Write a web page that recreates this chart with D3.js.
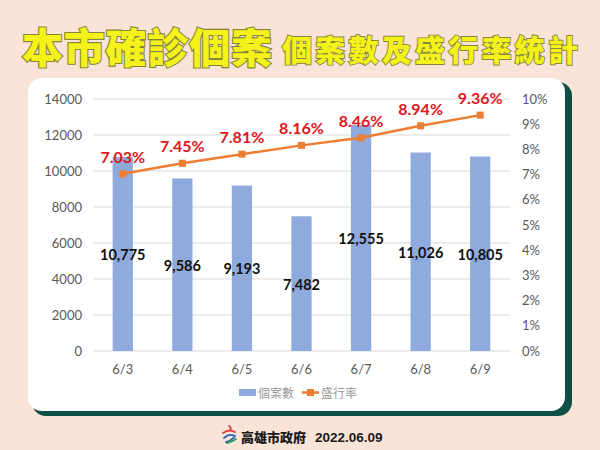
<!DOCTYPE html>
<html><head><meta charset="utf-8">
<script src="https://cdn.jsdelivr.net/npm/d3@7"></script>
<style>
html,body{margin:0;padding:0;background:#fae3d7;}
svg{display:block;}
</style></head>
<body>
<svg id="chart" width="600" height="450"></svg>
<script>
const categories = ["6/3","6/4","6/5","6/6","6/7","6/8","6/9"];
const cases = [10775, 9586, 9193, 7482, 12555, 11026, 10805];
const rates = [0.0703, 0.0745, 0.0781, 0.0816, 0.0846, 0.0894, 0.0936];
const leftTicks = [0,2000,4000,6000,8000,10000,12000,14000];
const rightTicks = [0,0.01,0.02,0.03,0.04,0.05,0.06,0.07,0.08,0.09,0.10];
const seriesNames = ["個案數","盛行率"];
const titleMain = "本市確診個案";
const titleSub = "個案數及盛行率統計";
const footerOrg = "高雄市政府";
const footerDate = "2022.06.09";

const svg = d3.select("#chart");
const latin = "Lato, 'Open Sans', 'Noto Sans', sans-serif";
const cjk = "'Noto Sans CJK TC', 'Noto Sans CJK SC', sans-serif";

svg.append("rect").attr("width",600).attr("height",450).attr("fill","#fae3d7");

// Title
svg.append("text").attr("x",22).attr("y",63)
  .attr("font-family",cjk).attr("font-weight",900).attr("font-size",41)
  .attr("textLength",250).attr("lengthAdjust","spacing")
  .attr("fill","#f4f21a").attr("stroke","#86863a").attr("stroke-width",2.2)
  .attr("paint-order","stroke").text(titleMain);
svg.append("text").attr("x",282).attr("y",61)
  .attr("font-family",cjk).attr("font-weight",900).attr("font-size",30)
  .attr("textLength",296).attr("lengthAdjust","spacing")
  .attr("fill","#f4f21a").attr("stroke","#86863a").attr("stroke-width",1.8)
  .attr("paint-order","stroke").text(titleSub);

// Card with shadow
svg.append("rect").attr("x",32).attr("y",82).attr("width",540).attr("height",334)
  .attr("rx",14).attr("fill","#0d4f45");
svg.append("rect").attr("x",28).attr("y",78).attr("width",537).attr("height",333)
  .attr("rx",14).attr("fill","#ffffff");

// Scales
const x = d3.scaleBand().domain(categories).range([93,510]).padding(0);
const yL = d3.scaleLinear().domain([0,14000]).range([351,99]);
const yR = d3.scaleLinear().domain([0,0.10]).range([351,99]);
const barW = x.bandwidth()*0.34;
const cx = d => x(d) + x.bandwidth()/2;

// Gridlines
svg.append("g").selectAll("line").data(leftTicks).join("line")
  .attr("x1",93).attr("x2",510).attr("y1",d=>yL(d)).attr("y2",d=>yL(d))
  .attr("stroke","#d9d9d9").attr("stroke-width",1);

// Left axis
const axL = svg.append("g").attr("transform","translate(88,0)")
  .call(d3.axisLeft(yL).tickValues(leftTicks).tickSize(0).tickPadding(6).tickFormat(d3.format("d")));
axL.select(".domain").remove();
axL.selectAll("text").attr("font-family",latin).attr("font-size",13).attr("fill","#595959");

// Right axis
const axR = svg.append("g").attr("transform","translate(516,0)")
  .call(d3.axisRight(yR).tickValues(rightTicks).tickSize(0).tickPadding(6).tickFormat(d3.format(".0%")));
axR.select(".domain").remove();
axR.selectAll("text").attr("font-family",latin).attr("font-size",13).attr("fill","#595959");

// X axis
const axX = svg.append("g").attr("transform","translate(0,351)")
  .call(d3.axisBottom(x).tickSize(0).tickPadding(14));
axX.select(".domain").remove();
axX.selectAll("text").attr("font-family",latin).attr("font-size",13).attr("fill","#595959");

// Bars
svg.append("g").selectAll("rect").data(categories).join("rect")
  .attr("x",d=>cx(d)-barW/2).attr("width",barW)
  .attr("y",(d,i)=>yL(cases[i])).attr("height",(d,i)=>yL(0)-yL(cases[i]))
  .attr("fill","#8faadc");

// Bar labels
svg.append("g").selectAll("text").data(categories).join("text")
  .attr("x",d=>cx(d)).attr("y",(d,i)=>(yL(cases[i])+yL(0))/2+6)
  .attr("text-anchor","middle").attr("font-family",latin).attr("font-weight",700)
  .attr("font-size",14.5).attr("fill","#111").text((d,i)=>d3.format(",")(cases[i]));

// Line
const line = d3.line().x((d,i)=>cx(categories[i])).y(d=>yR(d));
svg.append("path").datum(rates).attr("d",line).attr("fill","none")
  .attr("stroke","#ed7d31").attr("stroke-width",2.5);
svg.append("g").selectAll("rect").data(rates).join("rect")
  .attr("x",(d,i)=>cx(categories[i])-3.5).attr("y",d=>yR(d)-3.5)
  .attr("width",7).attr("height",7).attr("fill","#ed7d31");

// Rate labels
svg.append("g").selectAll("text").data(rates).join("text")
  .attr("x",(d,i)=>cx(categories[i])).attr("y",d=>yR(d)-11)
  .attr("text-anchor","middle").attr("font-family",latin).attr("font-weight",700)
  .attr("font-size",16).attr("fill","#e0161e").text(d=>d3.format(".2%")(d));

// Legend
const lg = svg.append("g");
lg.append("rect").attr("x",239).attr("y",389).attr("width",17).attr("height",7).attr("fill","#8faadc");
lg.append("text").attr("x",258).attr("y",397.5).attr("font-family",cjk).attr("font-size",12)
  .attr("fill","#999999").text(seriesNames[0]);
lg.append("line").attr("x1",302).attr("x2",319).attr("y1",392.5).attr("y2",392.5)
  .attr("stroke","#ed7d31").attr("stroke-width",2.5);
lg.append("rect").attr("x",307).attr("y",389).attr("width",7).attr("height",7).attr("fill","#ed7d31");
lg.append("text").attr("x",321).attr("y",397.5).attr("font-family",cjk).attr("font-size",12)
  .attr("fill","#999999").text(seriesNames[1]);

// Footer logo
const logo = svg.append("g").attr("fill","none").attr("stroke-width",1.8).attr("stroke-linecap","round");
logo.append("path").attr("d","M229,426 q3,2 1,4").attr("stroke","#e23b3b");
logo.append("path").attr("d","M223,433 q6,-4 12,-1").attr("stroke","#e23b3b");
logo.append("path").attr("d","M224,438 q5,-5 11,-2 q-4,5 -9,6").attr("stroke","#2f64b3");
logo.append("path").attr("d","M227,443 q5,-1 9,-4").attr("stroke","#2a9a4a");

svg.append("text").attr("x",241).attr("y",442).attr("font-family",cjk).attr("font-weight",900)
  .attr("font-size",13).attr("fill","#1a1a1a").text(footerOrg);
svg.append("text").attr("x",315).attr("y",442).attr("font-family","'Liberation Sans', Arial, sans-serif").attr("font-weight",700)
  .attr("font-size",13.5).attr("fill","#1a1a1a").text(footerDate);
</script>
</body></html>
